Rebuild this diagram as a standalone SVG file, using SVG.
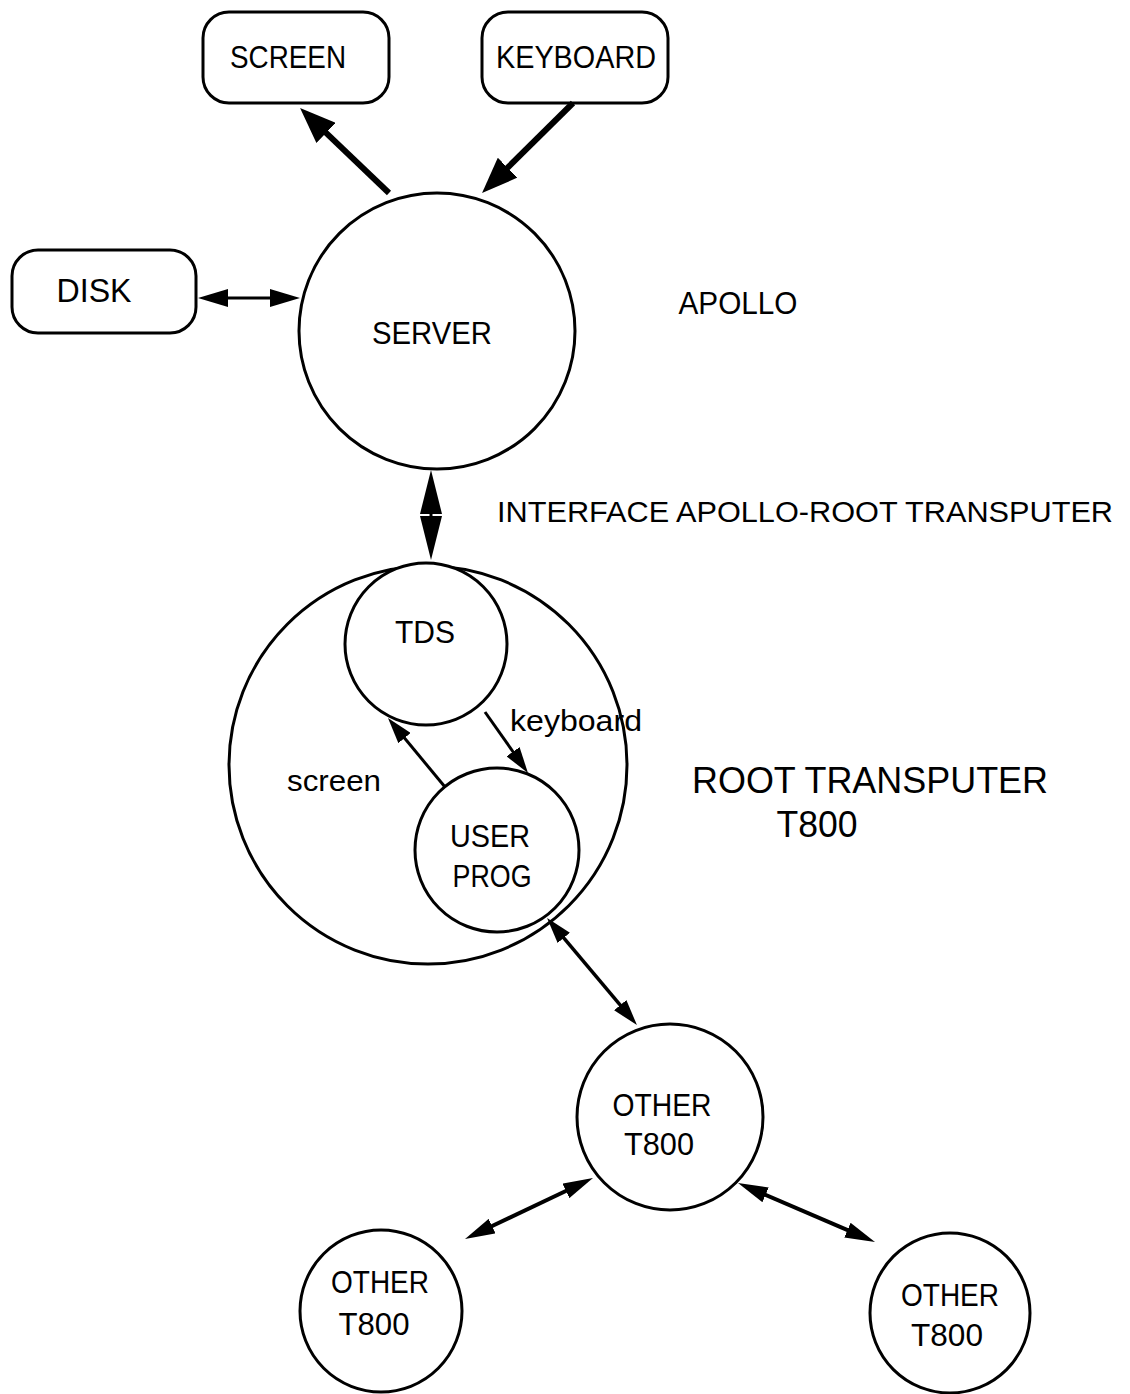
<svg xmlns="http://www.w3.org/2000/svg" width="1130" height="1394" viewBox="0 0 1130 1394">
<defs>
<style>
.n{fill:#fff;stroke:#000;stroke-width:3}
.t{font-family:"Liberation Sans",Arial,Helvetica,sans-serif;fill:#000;text-anchor:middle}
.c{stroke:#000;fill:none;stroke-linecap:butt}
</style>
<marker id="big" markerUnits="userSpaceOnUse" markerWidth="36" markerHeight="28" refX="4" refY="14" orient="auto-start-reverse"><path d="M0,0 L36,14 L0,28 Z" fill="#000"/></marker>
<marker id="med" markerUnits="userSpaceOnUse" markerWidth="30" markerHeight="18" refX="4" refY="9" orient="auto-start-reverse"><path d="M0,0 L30,9 L0,18 Z" fill="#000"/></marker>
<marker id="tall" markerUnits="userSpaceOnUse" markerWidth="44" markerHeight="22" refX="4" refY="11" orient="auto-start-reverse"><path d="M0,0 L44,11 L0,22 Z" fill="#000"/></marker>
<marker id="small" markerUnits="userSpaceOnUse" markerWidth="26" markerHeight="16" refX="4" refY="8" orient="auto-start-reverse"><path d="M0,0 L26,8 L0,16 Z" fill="#000"/></marker>
<marker id="mid" markerUnits="userSpaceOnUse" markerWidth="30" markerHeight="16" refX="4" refY="8" orient="auto-start-reverse"><path d="M0,0 L30,8 L0,16 Z" fill="#000"/></marker>
</defs>
<rect width="1130" height="1394" fill="#fff"/>

<g id="screen-box">
<rect class="n" x="203" y="12" width="186" height="91" rx="26"/>
<text class="t" x="288" y="68" font-size="31" textLength="116" lengthAdjust="spacingAndGlyphs">SCREEN</text>
</g>
<g id="keyboard-box">
<rect class="n" x="482" y="12" width="186" height="91" rx="26"/>
<text class="t" x="576" y="68" font-size="31" textLength="160" lengthAdjust="spacingAndGlyphs">KEYBOARD</text>
</g>
<g id="disk-box">
<rect class="n" x="12" y="250" width="184" height="83" rx="26"/>
<text class="t" x="94" y="302" font-size="33" textLength="75" lengthAdjust="spacingAndGlyphs">DISK</text>
</g>
<g id="server">
<circle class="n" cx="437" cy="331" r="138"/>
<text class="t" x="432" y="344" font-size="31" textLength="120" lengthAdjust="spacingAndGlyphs">SERVER</text>
</g>
<g id="apollo-label">
<text class="t" x="738" y="314" font-size="31" textLength="119" lengthAdjust="spacingAndGlyphs">APOLLO</text>
</g>
<g id="interface-label">
<text class="t" x="805" y="522" font-size="30" textLength="616" lengthAdjust="spacingAndGlyphs">INTERFACE APOLLO-ROOT TRANSPUTER</text>
</g>
<g id="root-transputer">
<circle class="n" cx="428" cy="765" r="199"/>
<text class="t" x="334" y="791" font-size="30" textLength="94" lengthAdjust="spacingAndGlyphs">screen</text>
<text class="t" x="576" y="731" font-size="30" textLength="132" lengthAdjust="spacingAndGlyphs">keyboard</text>
</g>
<g id="tds">
<circle class="n" cx="426" cy="644" r="81"/>
<text class="t" x="425" y="643" font-size="31" textLength="60" lengthAdjust="spacingAndGlyphs">TDS</text>
</g>
<g id="user-prog">
<circle class="n" cx="497" cy="850" r="82"/>
<text class="t" x="490" y="847" font-size="31" textLength="80" lengthAdjust="spacingAndGlyphs">USER</text>
<text class="t" x="492" y="887" font-size="31" textLength="79" lengthAdjust="spacingAndGlyphs">PROG</text>
</g>
<g id="root-label">
<text class="t" x="870" y="793" font-size="36" textLength="356" lengthAdjust="spacingAndGlyphs">ROOT TRANSPUTER</text>
<text class="t" x="817" y="837" font-size="36" textLength="81" lengthAdjust="spacingAndGlyphs">T800</text>
</g>
<g id="other-mid">
<circle class="n" cx="670" cy="1117" r="93"/>
<text class="t" x="662" y="1116" font-size="31" textLength="99" lengthAdjust="spacingAndGlyphs">OTHER</text>
<text class="t" x="659" y="1155" font-size="31" textLength="70" lengthAdjust="spacingAndGlyphs">T800</text>
</g>
<g id="other-left">
<circle class="n" cx="381" cy="1311" r="81"/>
<text class="t" x="380" y="1293" font-size="31" textLength="98" lengthAdjust="spacingAndGlyphs">OTHER</text>
<text class="t" x="374" y="1335" font-size="31" textLength="71" lengthAdjust="spacingAndGlyphs">T800</text>
</g>
<g id="other-right">
<circle class="n" cx="950" cy="1313" r="80"/>
<text class="t" x="950" y="1306" font-size="31" textLength="98" lengthAdjust="spacingAndGlyphs">OTHER</text>
<text class="t" x="947" y="1346" font-size="31" textLength="72" lengthAdjust="spacingAndGlyphs">T800</text>
</g>

<g id="connectors">
<line class="c" stroke-width="6" x1="389" y1="193" x2="323.2" y2="130.1" marker-end="url(#big)"/>
<line class="c" stroke-width="6" x1="573" y1="103" x2="504.8" y2="170.5" marker-end="url(#big)"/>
<line class="c" stroke-width="3" x1="224" y1="298" x2="274" y2="298" marker-start="url(#med)" marker-end="url(#med)"/>
<line class="c" stroke-width="3" x1="431" y1="510" x2="431" y2="520" marker-start="url(#tall)" marker-end="url(#tall)"/>
<line class="c" stroke-width="3" x1="445" y1="787" x2="402" y2="735" marker-end="url(#small)"/>
<line class="c" stroke-width="3" x1="485" y1="712" x2="515.3" y2="755" marker-end="url(#small)"/>
<line class="c" stroke-width="3.5" x1="561.2" y1="934.8" x2="622.8" y2="1008.2" marker-start="url(#small)" marker-end="url(#small)"/>
<line class="c" stroke-width="4" x1="488.5" y1="1227.8" x2="569.5" y2="1189.2" marker-start="url(#mid)" marker-end="url(#mid)"/>
<line class="c" stroke-width="4" x1="761.9" y1="1193.3" x2="851.1" y2="1231.7" marker-start="url(#mid)" marker-end="url(#mid)"/>
</g>
</svg>
